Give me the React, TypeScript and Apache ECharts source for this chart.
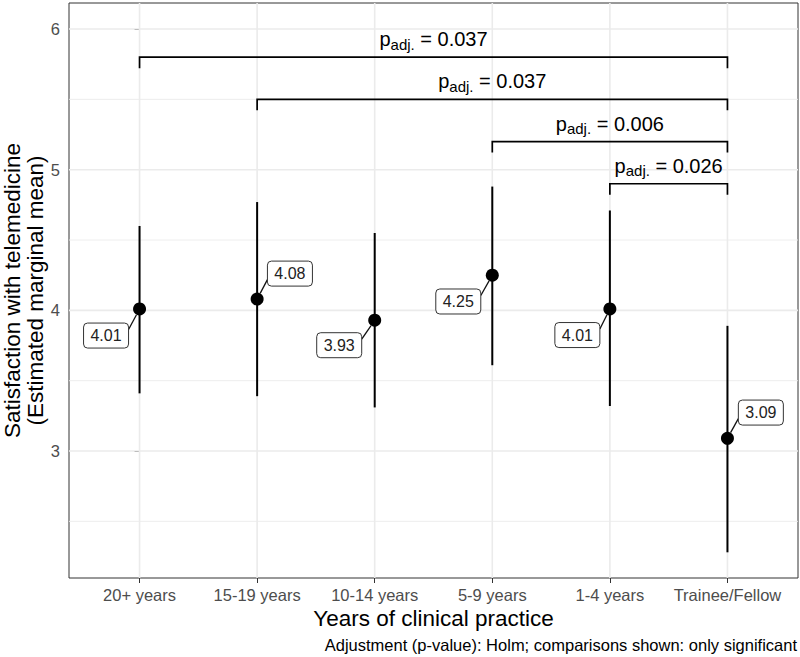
import React, { useEffect, useRef } from "react";
import * as echarts from "echarts";

// ---------- data ----------
const categories = ["20+ years", "15-19 years", "10-14 years", "5-9 years", "1-4 years", "Trainee/Fellow"];
const means = [4.01, 4.08, 3.93, 4.25, 4.01, 3.09];
const lowerCI = [3.41, 3.39, 3.31, 3.61, 3.32, 2.28];
const upperCI = [4.6, 4.77, 4.55, 4.88, 4.71, 3.89];
const yTicks = [3, 4, 5, 6];
const yMinor = [2.5, 3.5, 4.5, 5.5];
const bracketFrom = [0, 1, 3, 4];
const bracketTo = [5, 5, 5, 5];
const bracketY = [5.8, 5.5, 5.2, 4.9];
const bracketP = ["0.037", "0.037", "0.006", "0.026"];
const bracketTip = 0.078;

// ---------- layout (pixels) ----------
const labelOffsets = [
  [-33.5, 26.6],
  [32.8, -25.5],
  [-35.5, 25],
  [-34, 26.3],
  [-32.5, 26.1],
  [33.4, -25.8],
];
const FONT = "'Liberation Sans', Arial, Helvetica, sans-serif";
const P_MAIN = 20;
const P_SUB = 15;

let measureCtx: CanvasRenderingContext2D | null = null;
function measure(text: string, size: number): number {
  if (!measureCtx) {
    const c = document.createElement("canvas");
    measureCtx = c.getContext("2d");
  }
  if (!measureCtx) return text.length * size * 0.55;
  measureCtx.font = `${size}px ${FONT}`;
  return measureCtx.measureText(text).width;
}

export default function App() {
  const ref = useRef<HTMLDivElement>(null);

  useEffect(() => {
    if (!ref.current) return;
    const chart = echarts.init(ref.current, null, { renderer: "svg" });
    const catIdx = categories.map((_, i) => i);

    const option: any = {
      animation: false,
      backgroundColor: "#ffffff",
      textStyle: { fontFamily: FONT },
      grid: {
        left: 69,
        right: 2,
        top: 3,
        bottom: 79,
        show: true,
        borderColor: "#333333",
        borderWidth: 1,
        backgroundColor: "#ffffff",
        containLabel: false,
        outerBoundsMode: "none",
      },
      xAxis: {
        type: "value",
        min: -0.6,
        max: 5.6,
        name: "Years of clinical practice",
        nameLocation: "middle",
        nameGap: 29,
        nameMoveOverlap: false,
        nameTextStyle: { fontSize: 22.5, color: "#000000", fontFamily: FONT },
        axisLine: { show: false },
        splitLine: { show: false },
        axisTick: { show: true, customValues: catIdx, length: 5, lineStyle: { color: "#333333", width: 1 } },
        axisLabel: {
          customValues: catIdx,
          formatter: (v: number) => categories[Math.round(v)] ?? "",
          fontSize: 16.5,
          color: "#4d4d4d",
          margin: 8,
          fontFamily: FONT,
        },
      },
      yAxis: {
        type: "value",
        min: 2.0974,
        max: 6.185,
        name: "Satisfaction with telemedicine\n(Estimated marginal mean)",
        nameLocation: "middle",
        nameRotate: 90,
        nameGap: 22,
        nameMoveOverlap: false,
        nameTextStyle: { fontSize: 22.5, lineHeight: 23, color: "#000000", align: "center", fontFamily: FONT },
        axisLine: { show: false },
        splitLine: { show: false },
        axisTick: { show: true, customValues: yTicks, length: 5, lineStyle: { color: "#333333", width: 1 } },
        axisLabel: {
          customValues: yTicks,
          fontSize: 16.5,
          color: "#4d4d4d",
          margin: 9,
          fontFamily: FONT,
        },
      },
      graphic: [
        {
          type: "text",
          x: 797,
          y: 645,
          style: {
            text: "Adjustment (p-value): Holm; comparisons shown: only significant",
            align: "right",
            verticalAlign: "middle",
            fontSize: 16.5,
            fill: "#000000",
            fontFamily: FONT,
          },
        },
      ],
      series: [
        // horizontal grid lines
        {
          type: "custom",
          z: 1,
          silent: true,
          data: [...yTicks.map((v) => [0, v, 1]), ...yMinor.map((v) => [0, v, 0])],
          encode: { x: 0, y: 1 },
          renderItem: (params: any, api: any) => {
            const cs = params.coordSys;
            const y = api.coord([0, api.value(1)])[1];
            const major = api.value(2) === 1;
            return {
              type: "line",
              shape: { x1: cs.x, y1: y, x2: cs.x + cs.width, y2: y },
              style: { stroke: "#ebebeb", lineWidth: major ? 1.6 : 0.9 },
            };
          },
        },
        // vertical grid lines
        {
          type: "custom",
          z: 1,
          silent: true,
          data: catIdx.map((i) => [i, 4]),
          encode: { x: 0, y: 1 },
          renderItem: (params: any, api: any) => {
            const cs = params.coordSys;
            const x = api.coord([api.value(0), 4])[0];
            return {
              type: "line",
              shape: { x1: x, y1: cs.y, x2: x, y2: cs.y + cs.height },
              style: { stroke: "#ebebeb", lineWidth: 1.6 },
            };
          },
        },
        // error bars
        {
          type: "custom",
          z: 3,
          silent: true,
          data: catIdx.map((i) => [i, lowerCI[i], upperCI[i]]),
          encode: { x: 0, y: [1, 2] },
          renderItem: (params: any, api: any) => {
            const a = api.coord([api.value(0), api.value(1)]);
            const b = api.coord([api.value(0), api.value(2)]);
            return {
              type: "line",
              shape: { x1: a[0], y1: a[1], x2: b[0], y2: b[1] },
              style: { stroke: "#000000", lineWidth: 2 },
            };
          },
        },
        // points
        {
          type: "scatter",
          z: 4,
          silent: true,
          symbol: "circle",
          symbolSize: 13,
          itemStyle: { color: "#000000", opacity: 1 },
          data: catIdx.map((i) => [i, means[i]]),
        },
        // value labels
        {
          type: "custom",
          z: 5,
          silent: true,
          data: catIdx.map((i) => [i, means[i]]),
          encode: { x: 0, y: 1 },
          renderItem: (params: any, api: any) => {
            const idx = params.dataIndex;
            const p = api.coord([api.value(0), api.value(1)]);
            const off = labelOffsets[idx];
            const cx = p[0] + off[0];
            const cy = p[1] + off[1];
            const hw = 22.5;
            const hh = 12.5;
            const sx = cx + Math.sign(p[0] - cx) * hw;
            const sy = cy + Math.sign(p[1] - cy) * 6;
            const dx = p[0] - sx;
            const dy = p[1] - sy;
            const d = Math.sqrt(dx * dx + dy * dy) || 1;
            const ex = p[0] - (6.5 * dx) / d;
            const ey = p[1] - (6.5 * dy) / d;
            return {
              type: "group",
              children: [
                {
                  type: "line",
                  shape: { x1: sx, y1: sy, x2: ex, y2: ey },
                  style: { stroke: "#111111", lineWidth: 1.3 },
                },
                {
                  type: "rect",
                  shape: { x: cx - hw, y: cy - hh, width: hw * 2, height: hh * 2, r: 4 },
                  style: { fill: "#ffffff", stroke: "#333333", lineWidth: 1 },
                },
                {
                  type: "text",
                  style: {
                    text: means[idx].toFixed(2),
                    x: cx,
                    y: cy,
                    align: "center",
                    verticalAlign: "middle",
                    fontSize: 16,
                    fill: "#222222",
                    fontFamily: FONT,
                  },
                },
              ],
            };
          },
        },
        // significance brackets
        {
          type: "custom",
          z: 5,
          silent: true,
          data: bracketY.map((y, k) => [bracketFrom[k], y, bracketTo[k], k]),
          encode: { x: [0, 2], y: 1 },
          renderItem: (params: any, api: any) => {
            const from = api.value(0);
            const y = api.value(1);
            const to = api.value(2);
            const k = api.value(3);
            const a = api.coord([from, y]);
            const b = api.coord([to, y]);
            const ta = api.coord([from, y - bracketTip]);
            const tb = api.coord([to, y - bracketTip]);
            const tP = "p";
            const tS = "adj.";
            const tN = " = " + bracketP[k];
            const wP = measure(tP, P_MAIN);
            const wS = measure(tS, P_SUB);
            const wN = measure(tN, P_MAIN);
            const x0 = (a[0] + b[0]) / 2 - (wP + wS + wN) / 2;
            const yMain = a[1] - 18;
            const mk = (text: string, x: number, yy: number, size: number) => ({
              type: "text",
              style: {
                text,
                x,
                y: yy,
                align: "left",
                verticalAlign: "middle",
                fontSize: size,
                fill: "#000000",
                fontFamily: FONT,
              },
            });
            return {
              type: "group",
              children: [
                {
                  type: "polyline",
                  shape: { points: [ta, a, b, tb] },
                  style: { stroke: "#000000", lineWidth: 1.7, fill: null },
                },
                mk(tP, x0, yMain, P_MAIN),
                mk(tS, x0 + wP, yMain + 5, P_SUB),
                mk(tN, x0 + wP + wS, yMain, P_MAIN),
              ],
            };
          },
        },
      ],
    };

    chart.setOption(option);
    return () => chart.dispose();
  }, []);

  return (
    <div
      ref={ref}
      style={{ position: "fixed", left: 0, top: 0, width: 800, height: 657, background: "#ffffff" }}
    />
  );
}
